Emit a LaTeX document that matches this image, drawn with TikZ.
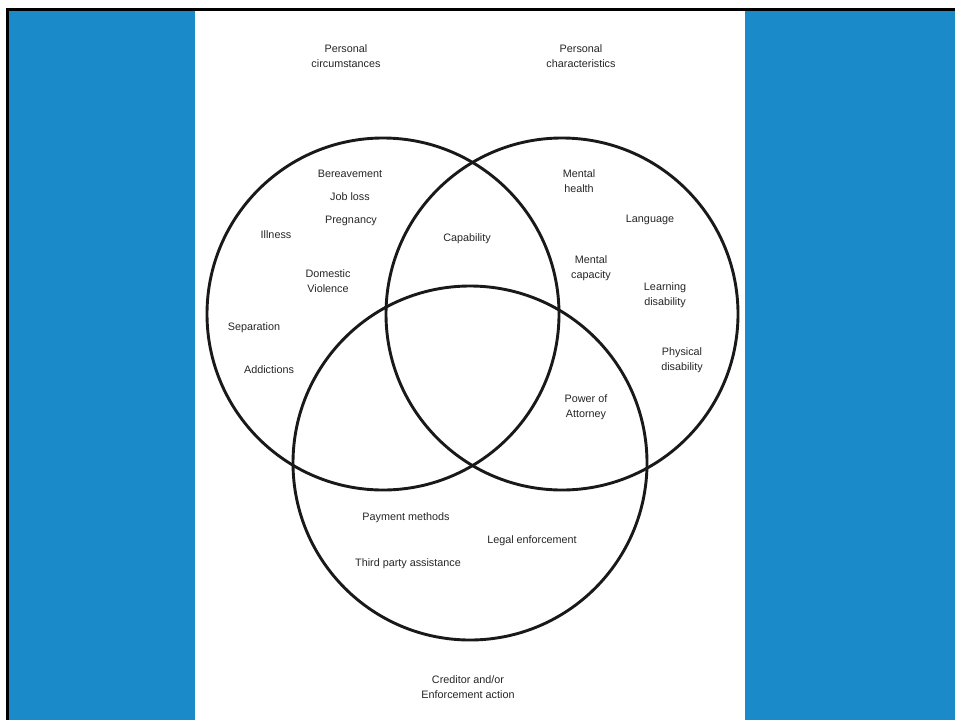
\documentclass[tikz,border=0pt]{standalone}
\usepackage{fontspec}
\setmainfont{Liberation Sans}
\definecolor{panelblue}{HTML}{1B8AC8}

\begin{document}
\begin{tikzpicture}[x=1pt,y=-1pt,
    ring/.style={line width=2.9pt,black!90},
    lbl/.style={align=center,text=black!85,inner sep=0pt,yshift=-1.5pt,
      font=\fontsize{10.8}{15}\selectfont}]
  \useasboundingbox (0,0) rectangle (955,720);
  \fill[white] (0,0) rectangle (955,720);
  \fill[panelblue] (9,11) rectangle (195,720);
  \fill[panelblue] (745,11) rectangle (955,720);
  \fill[black] (6,8) rectangle (955,11);
  \fill[black] (6,8) rectangle (9,720);
  % the three sets
  \draw[ring] (383,314) circle (176pt);
  \draw[ring] (562,314) circle (176pt);
  \draw[ring] (470,463) circle (177pt);
  % set titles
  \node[lbl] (circ) at (346,55) {Personal\\circumstances};
  \node[lbl] (chars) at (581,55) {Personal\\characteristics};
  \node[lbl] (cred) at (468,686) {Creditor and/or\\Enforcement action};
  % circumstances
  \node[lbl] (bereave) at (350,172) {Bereavement};
  \node[lbl] (job) at (350,195) {Job loss};
  \node[lbl] (preg) at (351,219) {Pregnancy};
  \node[lbl] (ill) at (276,233) {Illness};
  \node[lbl] (dom) at (328,280) {Domestic\\Violence};
  \node[lbl] (sep) at (254,326) {Separation};
  \node[lbl] (addict) at (269,368) {Addictions};
  \node[lbl] (capab) at (467,237) {Capability};
  % characteristics
  \node[lbl] (mhealth) at (579,180) {Mental\\health};
  \node[lbl] (lang) at (650,218) {Language};
  \node[lbl] (mcap) at (591,267) {Mental\\capacity};
  \node[lbl] (learn) at (665,294) {Learning\\disability};
  \node[lbl] (phys) at (682,359) {Physical\\disability};
  \node[lbl] (poa) at (586,406) {Power of\\Attorney};
  % creditor action
  \node[lbl] (pay) at (406,516) {Payment methods};
  \node[lbl] (legal) at (532,539) {Legal enforcement};
  \node[lbl] (third) at (408,562) {Third party assistance};
\end{tikzpicture}
\end{document}
